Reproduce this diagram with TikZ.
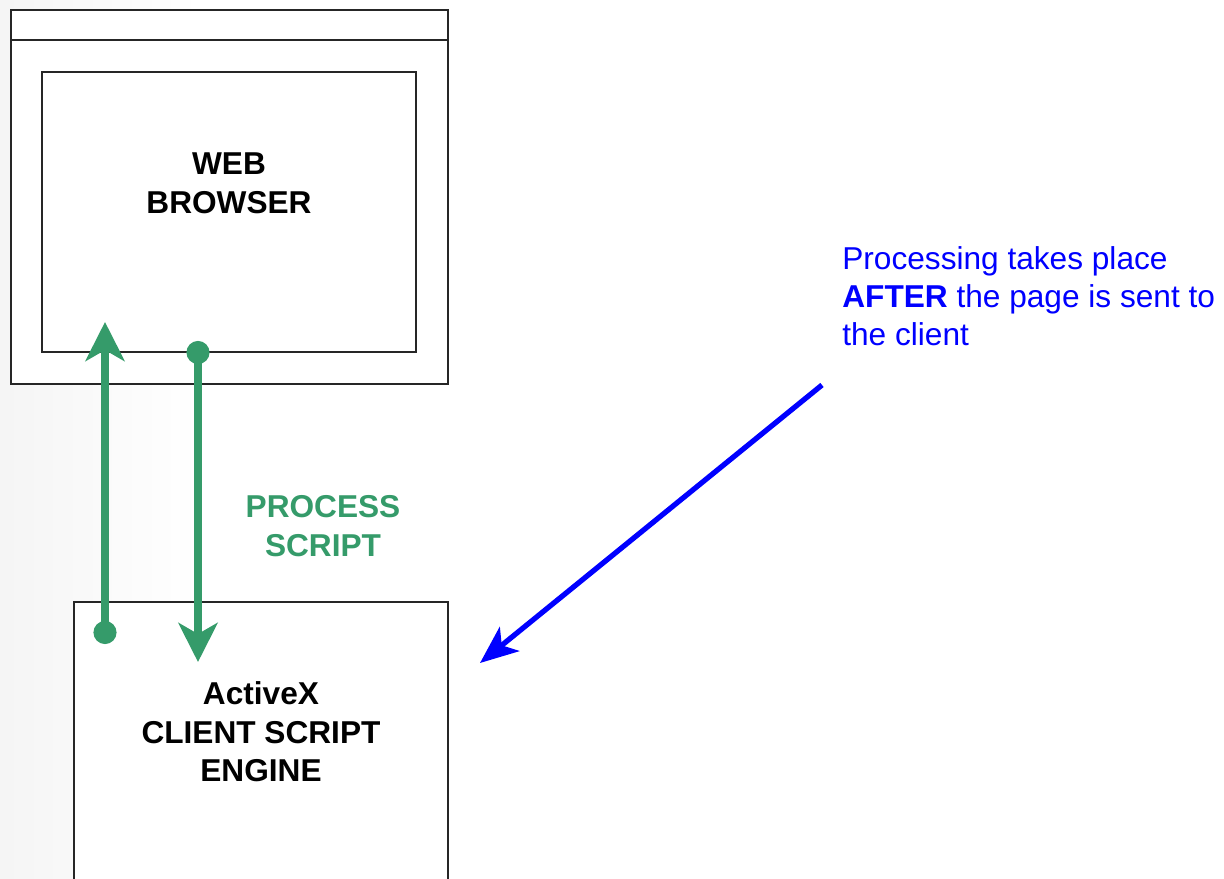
\documentclass[tikz,border=0pt]{standalone}
\usepackage{fontspec}
\setmainfont{Liberation Sans}
\usetikzlibrary{arrows.meta}
\definecolor{scriptgreen}{RGB}{53,155,106}
\definecolor{noteblue}{RGB}{0,0,255}
\begin{document}
\begin{tikzpicture}[x=0.02cm,y=-0.02cm]
		\tikzstyle{boite}=[draw=black!85, line width=1.1pt, fill=white, inner sep=0pt]
		\tikzstyle{titre}=[font=\fontsize{18}{22}\selectfont\bfseries, align=center]
		\tikzstyle{fleche_verte}=[draw=scriptgreen, line width=4pt, {Circle[length=0.46cm]}-{Stealth[length=0.78cm,width=0.78cm,inset=0.22cm]}]
		\tikzstyle{fleche_bleue}=[draw=noteblue, line width=3pt, -{Stealth[length=0.76cm,width=0.62cm,inset=0.2cm]}]
		\clip (0,0) rectangle (1224,879);
		\fill[white] (0,0) rectangle (1224,879);
		\shade[left color=black!4, right color=white] (0,0) rectangle (200,879);
		% navigateur
		\node[boite, minimum width=8.74cm, minimum height=7.48cm] (fenetre) at (229.5,197) {};
		\draw[black!85, line width=1.1pt] ([yshift=-0.62cm]fenetre.north west) -- ([yshift=-0.62cm]fenetre.north east);
		\node[boite, minimum width=7.48cm, minimum height=5.6cm] (ecran) at (229,212) {};
		\node[titre] (nav) at (229,183) {WEB\\BROWSER};
		% moteur de script
		\node[boite, minimum width=7.48cm, minimum height=6.4cm] (moteur) at (261,762) {};
		\node[titre] (moteur_txt) at (261,732) {ActiveX\\CLIENT SCRIPT\\ENGINE};
		% fleches vertes
		\coordinate (monte_bas) at (105,644);
		\coordinate (monte_haut) at (105,322);
		\coordinate (descend_haut) at (198,341);
		\coordinate (descend_bas) at (198,662);
		\draw[fleche_verte] (monte_bas) -- (monte_haut);
		\draw[fleche_verte] (descend_haut) -- (descend_bas);
		\node[titre, text=scriptgreen] (process) at (323,526) {PROCESS\\SCRIPT};
		% remarque
		\node[anchor=west, align=left, inner sep=0pt, text=noteblue, font=\fontsize{18}{21.6}\selectfont] (remarque) at (842,296)
			{Processing takes place\\\textbf{AFTER} the page is sent to\\the client};
		\coordinate (bleu_haut) at (822,385);
		\coordinate (bleu_bas) at (480,663);
		\draw[fleche_bleue] (bleu_haut) -- (bleu_bas);
	\end{tikzpicture}
\end{document}
